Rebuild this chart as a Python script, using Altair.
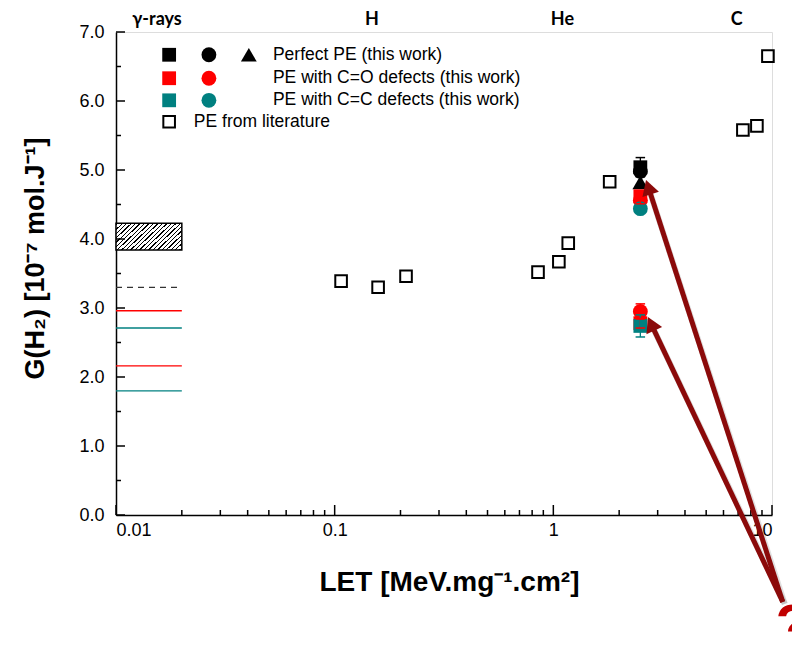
import altair as alt
import pandas as pd

# ---------------- data ----------------
# PE from literature
lit_let = [0.107, 0.158, 0.212, 0.851, 1.06, 1.17, 1.81, 7.36, 8.53, 9.58]
lit_g = [3.39, 3.30, 3.46, 3.52, 3.67, 3.94, 4.83, 5.58, 5.64, 6.65]

# this work (He ions)
tw_let = [2.5, 2.5, 2.5, 2.5, 2.5, 2.5, 2.5, 2.5, 2.5]
tw_series = ["perfect", "perfect", "perfect", "co", "co", "co", "co", "cc", "cc"]
tw_shape = ["square", "circle", "triangle", "square", "circle", "circle", "square", "square", "circle"]
tw_g = [5.04, 4.98, 4.82, 4.62, 4.56, 2.95, 2.78, 2.74, 4.44]
tw_err = [0.14, 0.04, 0.0, 0.06, 0.05, 0.11, 0.07, 0.16, 0.02]

# gamma-ray reference values (LET range 0.01 - 0.02)
gamma_series = ["perfect", "co", "cc", "co", "cc"]
gamma_g = [3.30, 2.96, 2.71, 2.16, 1.80]
gamma_let_lo = 0.01
gamma_let_hi = 0.02
gamma_box_lo = 3.84
gamma_box_hi = 4.23

# particle labels on top
particles = ["γ-rays", "H", "He", "C"]
particle_let = [0.0154, 0.148, 1.1, 6.9]

# annotation arrows
arrow_tail_let = [11.2, 11.2]
arrow_tail_g = [-1.26, -1.26]
arrow_head_let = [2.72, 2.80]
arrow_head_g = [4.75, 2.77]
arrow_angle = [342, 335]

# legend
leg_labels = ["Perfect PE (this work)", "PE with C=O defects (this work)",
              "PE with C=C defects (this work)", "PE from literature"]
leg_row_g = [6.67, 6.33, 6.01, 5.70]
leg_text_let = [0.0522, 0.0522, 0.0522, 0.0227]
leg_sym_let = [0.0175, 0.0266, 0.0405, 0.0175, 0.0266, 0.0175, 0.0266]
leg_sym_g = [6.67, 6.67, 6.67, 6.33, 6.33, 6.01, 6.01]
leg_sym_series = ["perfect", "perfect", "perfect", "co", "co", "cc", "cc"]
leg_sym_shape = ["square", "circle", "triangle", "square", "circle", "square", "circle"]

x_major = [0.01, 0.1, 1, 10]
x_minor = [0.02, 0.03, 0.04, 0.05, 0.06, 0.07, 0.08, 0.09,
           0.2, 0.3, 0.4, 0.5, 0.6, 0.7, 0.8, 0.9,
           2, 3, 4, 5, 6, 7, 8, 9]
y_major = [0, 1, 2, 3, 4, 5, 6, 7]
y_minor = [0.5, 1.5, 2.5, 3.5, 4.5, 5.5, 6.5]

# ---------------- styling ----------------
W, H = 656, 483
FONT = "Liberation Sans"
series_dom = ["perfect", "co", "cc"]
series_col = ["#000000", "#FF0000", "#008080"]
shape_dom = ["square", "circle", "triangle"]
shape_rng = ["square", "circle", "triangle-up"]
size_rng = [190, 250, 300]

x_scale = alt.Scale(type="log", domain=[0.01, 10], nice=False)
y_scale = alt.Scale(domain=[0, 7], nice=False, zero=False)

x_axis = alt.Axis(values=x_major, format="~g", ticks=False, grid=False,
                  labelFont=FONT, labelFontSize=18, labelColor="black", labelPadding=6,
                  domainColor="black", domainWidth=1.5,
                  title="LET [MeV.mg⁻¹.cm²]", titleFont=FONT, titleFontSize=28,
                  titleFontWeight="bold", titleColor="black",
                  titleBaseline="alphabetic", titleY=75, titleX=333)
y_axis = alt.Axis(values=y_major, format=".1f", ticks=False, grid=False,
                  labelFont=FONT, labelFontSize=18, labelColor="black", labelPadding=12,
                  domainColor="black", domainWidth=1.5,
                  title="G(H₂) [10⁻⁷ mol.J⁻¹]", titleFont=FONT, titleFontSize=27,
                  titleFontWeight="bold", titleColor="black",
                  titleBaseline="middle", titleX=-81, titleY=226, titleAngle=-90)


def X(f):
    return alt.X(f, type="quantitative", scale=x_scale, axis=x_axis)


def Y(f):
    return alt.Y(f, type="quantitative", scale=y_scale, axis=y_axis)


color_enc = alt.Color("series:N", scale=alt.Scale(domain=series_dom, range=series_col), legend=None)
shape_enc = alt.Shape("shape:N", scale=alt.Scale(domain=shape_dom, range=shape_rng), legend=None)
size_enc = alt.Size("shape:N", scale=alt.Scale(domain=shape_dom, range=size_rng), legend=None)

# ---------------- tables ----------------
lit_df = pd.DataFrame({"let": lit_let, "g": lit_g})
tw_df = pd.DataFrame({"let": tw_let, "series": tw_series, "shape": tw_shape, "g": tw_g, "err": tw_err})
tw_df["lo"] = tw_df["g"] - tw_df["err"]
tw_df["hi"] = tw_df["g"] + tw_df["err"]
err_df = tw_df[tw_df["err"] > 0]
gamma_df = pd.DataFrame({"series": gamma_series, "g": gamma_g,
                         "x1": [gamma_let_lo] * 5, "x2": [gamma_let_hi] * 5})
box_df = pd.DataFrame({"x1": [gamma_let_lo], "x2": [gamma_let_hi], "y1": [gamma_box_lo], "y2": [gamma_box_hi]})
part_df = pd.DataFrame({"let": particle_let, "label": particles})
arrow_df = pd.DataFrame({"x1": arrow_tail_let, "y1": arrow_tail_g, "x2": arrow_head_let,
                         "y2": arrow_head_g, "angle": arrow_angle})
leg_text_df = pd.DataFrame({"let": leg_text_let, "g": leg_row_g, "label": leg_labels})
leg_sym_df = pd.DataFrame({"let": leg_sym_let, "g": leg_sym_g, "series": leg_sym_series, "shape": leg_sym_shape})
leg_lit_df = pd.DataFrame({"let": [leg_sym_let[0]], "g": [leg_row_g[3]]})
q_df = pd.DataFrame({"let": [10.4], "g": [-1.22], "label": ["?"]})

xmaj_df = pd.DataFrame({"v": x_major})
xmin_df = pd.DataFrame({"v": x_minor})
ymaj_df = pd.DataFrame({"v": y_major})
ymin_df = pd.DataFrame({"v": y_minor})

# ---------------- layers ----------------
# hatch fill as a striped linear gradient (decoration)
stops = []
n_stripes = 21
for i in range(n_stripes):
    a = (i + 0.35) / n_stripes
    b = a + 0.3 / n_stripes
    stops += [alt.GradientStop(offset=a, color="white"), alt.GradientStop(offset=a, color="black"),
              alt.GradientStop(offset=b, color="black"), alt.GradientStop(offset=b, color="white")]
hatch = alt.Gradient(gradient="linear", stops=stops, x1=0, y1=0, x2=1.207, y2=0.512)

box = alt.Chart(box_df).mark_rect(fill=hatch, stroke="black", strokeWidth=1.5).encode(
    x=X("x1"), x2="x2", y=Y("y1"), y2="y2")

gamma_solid = alt.Chart(gamma_df).transform_filter("datum.series != 'perfect'").mark_rule(strokeWidth=1.3).encode(
    x=X("x1"), x2="x2", y=Y("g"), color=color_enc)
gamma_dash = alt.Chart(gamma_df).transform_filter("datum.series == 'perfect'").mark_rule(
    strokeWidth=1.3, strokeDash=[6, 5], color="#333333").encode(x=X("x1"), x2="x2", y=Y("g"))

lit = alt.Chart(lit_df).mark_point(shape="square", size=135, filled=False, stroke="black",
                                   strokeWidth=2, opacity=1).encode(x=X("let"), y=Y("g"))

tw_points = alt.Chart(tw_df).mark_point(filled=True, opacity=1, strokeWidth=0).encode(
    x=X("let"), y=Y("g"), color=color_enc, shape=shape_enc, size=size_enc)

err_rule = alt.Chart(err_df).mark_rule(strokeWidth=1.3).encode(
    x=X("let"), y=Y("lo"), y2="hi", color=color_enc)
err_cap_hi = alt.Chart(err_df).mark_point(shape="stroke", size=90, strokeWidth=1.5, opacity=1).encode(
    x=X("let"), y=Y("hi"), color=color_enc)
err_cap_lo = alt.Chart(err_df).mark_point(shape="stroke", size=90, strokeWidth=1.5, opacity=1).encode(
    x=X("let"), y=Y("lo"), color=color_enc)

# legend (drawn in data space)
leg_sym = alt.Chart(leg_sym_df).mark_point(filled=True, opacity=1, strokeWidth=0).encode(
    x=X("let"), y=Y("g"), color=color_enc, shape=shape_enc, size=size_enc)
leg_lit = alt.Chart(leg_lit_df).mark_point(shape="square", size=135, filled=False, stroke="black",
                                           strokeWidth=2, opacity=1).encode(x=X("let"), y=Y("g"))
leg_text = alt.Chart(leg_text_df).mark_text(align="left", baseline="middle", font=FONT,
                                            fontSize=17.5, color="black").encode(
    x=X("let"), y=Y("g"), text="label:N")

# particle labels above plot
part = alt.Chart(part_df).mark_text(baseline="middle", font="Lato", fontSize=18, fontWeight="bold",
                                    color="black").encode(x=X("let"), y=alt.value(-12), text="label:N")

# ticks pointing inward
xt_maj = alt.Chart(xmaj_df).mark_rule(color="black", strokeWidth=1.5).encode(
    x=X("v"), y=alt.value(H), y2=alt.value(H - 10))
xt_min = alt.Chart(xmin_df).mark_rule(color="black", strokeWidth=1.5).encode(
    x=X("v"), y=alt.value(H), y2=alt.value(H - 5))
yt_maj = alt.Chart(ymaj_df).mark_rule(color="black", strokeWidth=1.5).encode(
    y=Y("v"), x=alt.value(0), x2=alt.value(9))
yt_min = alt.Chart(ymin_df).mark_rule(color="black", strokeWidth=1.5).encode(
    y=Y("v"), x=alt.value(0), x2=alt.value(5))

# arrows
arrow_shadow = alt.Chart(arrow_df).mark_rule(strokeWidth=6, color="#000000", opacity=0.12).encode(
    x=X("x1"), y=Y("y1"), x2="x2", y2="y2", xOffset=alt.value(2), yOffset=alt.value(2))
arrow_line = alt.Chart(arrow_df).mark_rule(strokeWidth=5, color="#8B0A0A").encode(
    x=X("x1"), y=Y("y1"), x2="x2", y2="y2")
arrow_head = alt.Chart(arrow_df).mark_point(shape="triangle-up", size=300, filled=True, opacity=1,
                                            color="#8B0A0A", strokeWidth=0).encode(
    x=X("x2"), y=Y("y2"), angle=alt.Angle("angle:Q", scale=None))

qmark = alt.Chart(q_df).mark_text(align="left", baseline="top", font=FONT, fontSize=56,
                                  fontWeight="bold", color="#C00000").encode(
    x=X("let"), y=Y("g"), text="label:N")

chart = alt.layer(
    box, gamma_solid, gamma_dash, lit, tw_points, err_rule, err_cap_hi, err_cap_lo,
    leg_sym, leg_lit, leg_text, part, xt_maj, xt_min, yt_maj, yt_min,
    arrow_shadow, arrow_line, arrow_head, qmark
).properties(
    width=W, height=H,
    autosize=alt.AutoSizeParams(type="none"),
    padding={"left": 108, "top": 24, "right": 20, "bottom": 118},
).configure_view(stroke="black", strokeWidth=1.5).configure(background="white")

chart.save("out.html", embed_options={"renderer": "svg", "actions": False})
